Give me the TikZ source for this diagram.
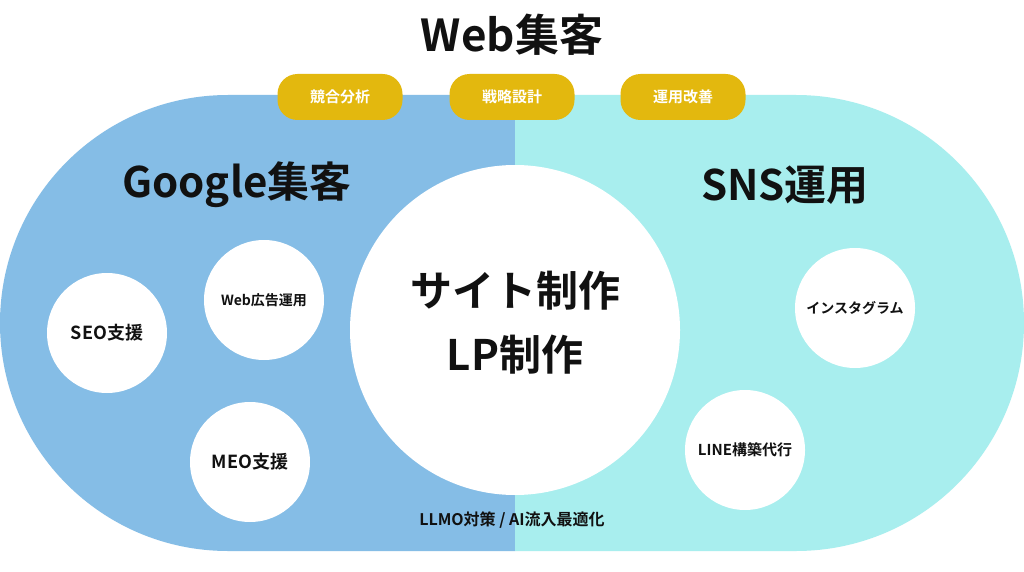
\documentclass[tikz,border=0pt]{standalone}
\usepackage{fontspec}
\setmainfont{Noto Sans CJK JP}[BoldFont=* Bold]
\definecolor{lblue}{HTML}{85BDE6}
\definecolor{lcyan}{HTML}{A8EEEE}
\definecolor{gold}{HTML}{E3B80E}
\definecolor{ink}{HTML}{111111}
\begin{document}
\begin{tikzpicture}[x=1pt,y=-1pt,
  small/.style={circle,fill=white,minimum size=120pt,inner sep=0pt,font=\bfseries\fontsize{18}{20}\selectfont,text=ink},
  pill/.style={rounded corners=20pt,fill=gold,minimum width=125pt,minimum height=46pt,text=white,font=\bfseries\fontsize{15}{18}\selectfont},
  head/.style={font=\bfseries\fontsize{42}{46}\selectfont,text=ink}]
\useasboundingbox (0,0) rectangle (1024,572);
\fill[white] (0,0) rectangle (1024,572);
\fill[lblue] (515,95) -- (228,95) arc[start angle=270,end angle=90,radius=228] -- (515,551) -- cycle;
\fill[lcyan] (515,95) -- (796,95) arc[start angle=270,end angle=450,radius=228] -- (515,551) -- cycle;
\node[circle,fill=white,minimum size=330pt,inner sep=0pt] (main) at (515,330) {};
\node[head,align=center,font=\bfseries\fontsize{42}{64}\selectfont] (mt) at (515,323) {サイト制作\\LP制作};
\node[small] (seo) at (107,333) {SEO支援};
\node[small,font=\bfseries\fontsize{14}{16}\selectfont] (web) at (264,300) {Web広告運用};
\node[small] (meo) at (250,462) {MEO支援};
\node[small,font=\bfseries\fontsize{14}{16}\selectfont] (insta) at (855,308) {インスタグラム};
\node[small,font=\bfseries\fontsize{15}{16}\selectfont] (line) at (745,450) {LINE構築代行};
\node[pill] (p1) at (340,97) {競合分析};
\node[pill] (p2) at (512,97) {戦略設計};
\node[pill] (p3) at (683,97) {運用改善};
\node[head,font=\bfseries\fontsize{44}{48}\selectfont] (title) at (512,35) {Web集客};
\node[head] (g) at (237,185) {Google集客};
\node[head] (s) at (785,185) {SNS運用};
\node[font=\bfseries\fontsize{16}{18}\selectfont,text=ink] (llmo) at (512,520) {LLMO対策 / AI流入最適化};
\end{tikzpicture}
\end{document}
